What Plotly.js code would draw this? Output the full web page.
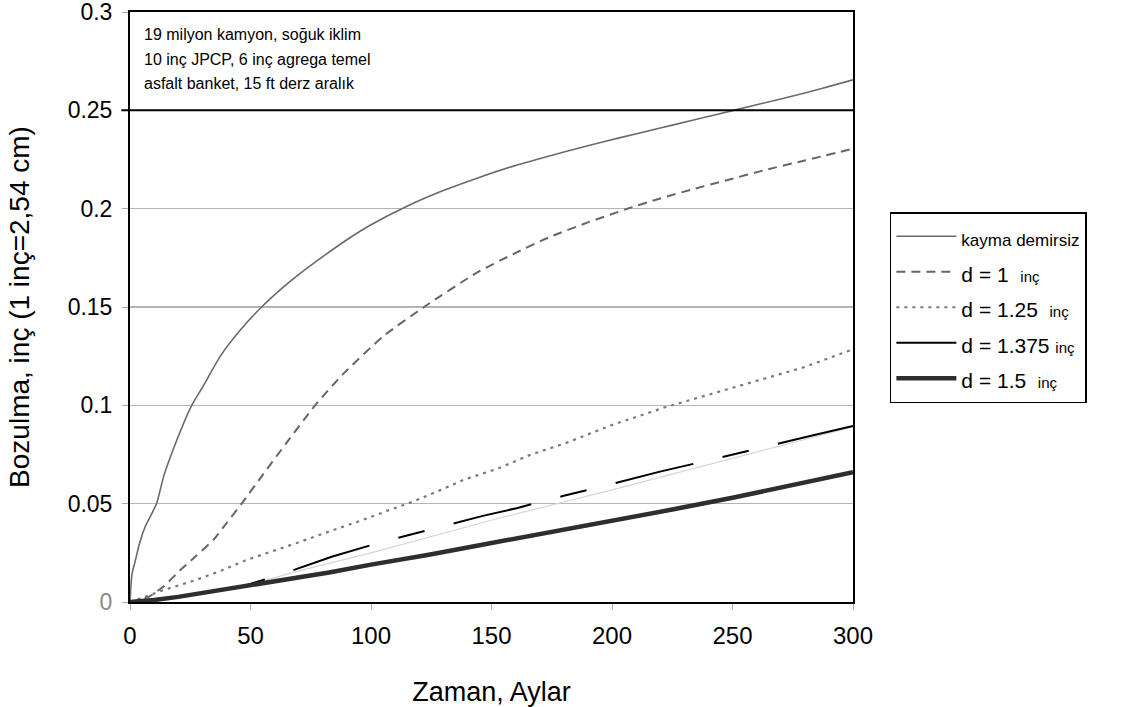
<!DOCTYPE html>
<html>
<head>
<meta charset="utf-8">
<script src="https://cdn.plot.ly/plotly-3.0.1.min.js"></script>
<style>html,body{margin:0;padding:0;background:#fff;}</style>
</head>
<body>
<div id="chart" style="width:1121px;height:707px;"></div>
<script>
// Zaman (ay) and bozulma (inç) values
var monthsNoDowel = [0, 0.8, 2, 4, 6.2, 11, 14, 19, 25.6, 30, 37.5, 45.6, 54.6, 63, 70.5, 81, 90, 100, 114.5, 130, 144, 160, 174, 190, 203, 220, 233, 243, 260, 280, 300];
var faultNoDowel  = [0, 0.014, 0.02, 0.03, 0.038, 0.05, 0.064, 0.081, 0.1, 0.109, 0.125, 0.138, 0.15, 0.1595, 0.167, 0.1765, 0.1842, 0.1918, 0.201, 0.2092, 0.2155, 0.222, 0.2268, 0.232, 0.236, 0.241, 0.2448, 0.2478, 0.2528, 0.2588, 0.2655];

var monthsD100 = [0, 4, 8.3, 14, 20.7, 27, 34.6, 40, 46.3, 55.3, 65, 76.8, 88.5, 105, 122, 144, 160, 174, 190, 206, 220, 233, 248, 263, 280, 300];
var faultD100  = [0, 0.001, 0.003, 0.008, 0.016, 0.023, 0.0316, 0.04, 0.05, 0.065, 0.081, 0.1, 0.116, 0.135, 0.15, 0.1675, 0.1775, 0.1855, 0.193, 0.1998, 0.2052, 0.2097, 0.2146, 0.2195, 0.2245, 0.2305];

var monthsD125 = [0, 8.3, 15, 27.4, 38, 48.4, 60, 69.2, 83, 96.8, 107, 117.6, 128, 138.3, 153, 166, 180.8, 200, 222, 243, 264, 280, 300];
var faultD125  = [0, 0.0036, 0.0065, 0.0112, 0.016, 0.0214, 0.026, 0.03, 0.036, 0.0418, 0.0465, 0.0511, 0.0565, 0.0621, 0.068, 0.0748, 0.0808, 0.09, 0.099, 0.1065, 0.114, 0.1195, 0.1285];

var monthsD1375 = [0, 20, 46.3, 65, 84, 105, 125, 146.4, 160.4, 180, 200, 219.9, 240, 260, 280, 300];
var faultD1375  = [0, 0.0027, 0.0078, 0.015, 0.0231, 0.0307, 0.037, 0.0438, 0.0477, 0.054, 0.06, 0.0663, 0.072, 0.078, 0.0838, 0.0895];

// faint grey trace visible in the gaps of the d = 1.375 line
var monthsTrail = [46, 77, 100, 153, 200, 250, 300];
var faultTrail  = [0.0078, 0.018, 0.025, 0.0426, 0.057, 0.073, 0.089];

var monthsD150 = [0, 10, 20, 30, 46, 65, 82.6, 100, 124, 150, 175, 200, 225, 250, 275, 300];
var faultD150  = [0, 0.001, 0.0026, 0.0045, 0.0075, 0.0112, 0.015, 0.019, 0.024, 0.03, 0.0355, 0.041, 0.047, 0.053, 0.0595, 0.066];

var xTicks = [0, 50, 100, 150, 200, 250, 300];
var yTicks = [0, 0.05, 0.1, 0.15, 0.2, 0.25, 0.3];
var yTickText = ['<span style="color:#8a8a8a">0</span>', '0.05', '0.1', '0.15', '0.2', '0.25', '0.3'];

var noteLines = ['19 milyon kamyon, soğuk iklim', '10 inç JPCP, 6 inç agrega temel', 'asfalt banket, 15 ft derz aralık'];
var noteY = [0.2887, 0.276, 0.2637];

var seriesNames = [
  '<span style="font-size:17px">kayma demirsiz</span>',
  '<span style="font-size:21px">d = 1  </span><span style="font-size:15px">inç</span>',
  '<span style="font-size:21px">d = 1.25  </span><span style="font-size:15px">inç</span>',
  '<span style="font-size:21px">d = 1.375 </span><span style="font-size:15px">inç</span>',
  '<span style="font-size:21px">d = 1.5  </span><span style="font-size:15px">inç</span>'
];

var traces = [
  {x: monthsNoDowel, y: faultNoDowel, name: seriesNames[0], mode: 'lines',
   line: {color: '#6a6a6a', width: 1.6, shape: 'spline', smoothing: 0.6}},
  {x: monthsD100, y: faultD100, name: seriesNames[1], mode: 'lines',
   line: {color: '#666666', width: 2, dash: '9px,6px', shape: 'spline', smoothing: 0.6}},
  {x: monthsD125, y: faultD125, name: seriesNames[2], mode: 'lines',
   line: {color: '#7a7a7a', width: 2.2, dash: '3px,5px'}},
  {x: monthsTrail, y: faultTrail, name: 'trail', mode: 'lines', showlegend: false, hoverinfo: 'skip',
   line: {color: '#d6d6d6', width: 1.2}},
  {x: monthsD1375, y: faultD1375, name: seriesNames[3], mode: 'lines',
   line: {color: '#000000', width: 2, dash: '80px,30px,27px,30px'}},
  {x: monthsD150, y: faultD150, name: seriesNames[4], mode: 'lines',
   line: {color: '#2e2e2e', width: 4.5}}
];

var annotations = noteLines.map(function (t, i) {
  return {text: t, xref: 'paper', x: 0.016, xanchor: 'left', yref: 'y', y: noteY[i], yanchor: 'middle',
          showarrow: false, font: {family: 'Liberation Sans, Arial, sans-serif', size: 16, color: '#000'}};
});

var layout = {
  width: 1121, height: 707,
  margin: {l: 130, r: 268, t: 12, b: 105},
  paper_bgcolor: '#ffffff', plot_bgcolor: '#ffffff',
  font: {family: 'Liberation Sans, Arial, sans-serif', color: '#000'},
  showlegend: true,
  legend: {
    x: 1.051, xanchor: 'left', y: 0.661, yanchor: 'top',
    bordercolor: '#000', borderwidth: 1.5, bgcolor: '#fff',
    font: {family: 'Liberation Sans, Arial, sans-serif', size: 25, color: '#000'},
    itemwidth: 60, tracegroupgap: 0
  },
  xaxis: {
    range: [0, 300], tickvals: xTicks, ticktext: xTicks.map(String),
    showline: true, linecolor: '#000', linewidth: 2, mirror: true,
    ticks: 'outside', ticklen: 6, tickcolor: '#aaa', tickwidth: 1,
    showgrid: false, zeroline: false, automargin: false,
    ticklabelstandoff: 5, ticklabeloverflow: 'allow',
    tickfont: {family: 'Liberation Sans Narrow, Liberation Sans, Arial, sans-serif', size: 24, color: '#000'},
    title: {text: 'Zaman, Aylar', standoff: 34,
            font: {family: 'Liberation Sans Narrow, Liberation Sans, Arial, sans-serif', size: 27, color: '#000'}}
  },
  yaxis: {
    range: [0, 0.3], tickvals: yTicks, ticktext: yTickText,
    showline: true, linecolor: '#000', linewidth: 2, mirror: true,
    ticks: 'outside', ticklen: 6, tickcolor: '#aaa', tickwidth: 1,
    showgrid: true, gridcolor: '#b4b4b4', gridwidth: 1.3, zeroline: false, automargin: false,
    tickfont: {family: 'Liberation Sans, Arial, sans-serif', size: 23, color: '#000'},
    ticklabelstandoff: 5, ticklabeloverflow: 'allow',
    title: {text: 'Bozulma, inç (1 inç=2,54 cm)', standoff: 30,
            font: {family: 'Liberation Sans, Arial, sans-serif', size: 28, color: '#000'}}
  },
  shapes: [
    {type: 'line', xref: 'paper', x0: -0.012, x1: 1, yref: 'y', y0: 0.25, y1: 0.25,
     line: {color: '#000', width: 2}}
  ],
  annotations: annotations
};

Plotly.newPlot('chart', traces, layout, {displayModeBar: false, staticPlot: true});
</script>
</body>
</html>
